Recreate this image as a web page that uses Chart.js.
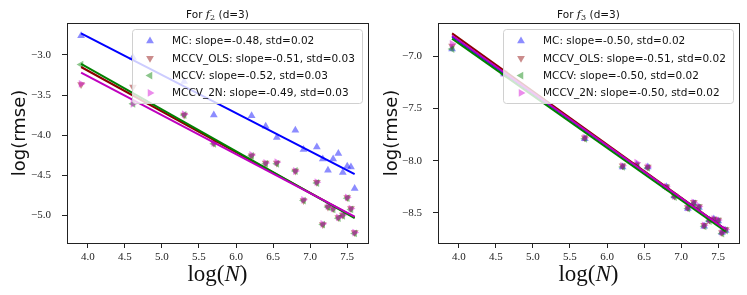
<!DOCTYPE html>
<html>
<head>
<meta charset="utf-8">
<script src="https://cdn.jsdelivr.net/npm/chart.js@4/dist/chart.umd.min.js"></script>
<style>
html, body { margin: 0; padding: 0; background: #fff; }
#wrap { position: relative; width: 747px; height: 295px; }
.box { position: absolute; top: 0; height: 295px; }
</style>
</head>
<body>
<div id="wrap">
  <div class="box" style="left:0;width:373px"><canvas id="c2"></canvas></div>
  <div class="box" style="left:373px;width:374px"><canvas id="c3"></canvas></div>
</div>
<script>
// series names (legend order)
var names = ['MC', 'MCCV_OLS', 'MCCV', 'MCCV_2N'];

// f2 panel
var logN_f2 = [3.91, 4.61, 5.30, 5.70, 6.21, 6.40, 6.55, 6.80, 6.91, 7.09, 7.17, 7.24, 7.31, 7.38, 7.44, 7.50, 7.55, 7.60];
var f2_MC   = [-2.76, -3.03, -3.33, -3.75, -3.76, -3.89, -4.03, -3.94, -4.18, -4.15, -4.30, -4.44, -4.30, -4.23, -4.47, -4.39, -4.40, -4.67];
var f2_OLS  = [-3.37, -3.40, -3.75, -4.10, -4.26, -4.35, -4.35, -4.45, -4.82, -4.59, -5.12, -4.90, -4.92, -5.03, -5.00, -4.78, -4.92, -5.22];
var f2_CV   = [-3.12, -3.61, -3.75, -4.11, -4.26, -4.36, -4.36, -4.45, -4.82, -4.60, -5.12, -4.90, -4.93, -5.04, -5.01, -4.79, -4.93, -5.23];
var f2_2N   = [-3.36, -3.61, -3.74, -4.10, -4.25, -4.35, -4.34, -4.45, -4.81, -4.59, -5.11, -4.89, -4.92, -5.03, -5.00, -4.78, -4.92, -5.22];

// f3 panel
var logN_f3 = [3.91, 4.61, 5.70, 6.21, 6.40, 6.55, 6.80, 6.91, 7.09, 7.17, 7.24, 7.31, 7.38, 7.44, 7.50, 7.55, 7.60];
var f3_MC   = [-6.93, -7.17, -7.79, -8.06, -8.04, -8.06, -8.25, -8.34, -8.46, -8.41, -8.45, -8.63, -8.57, -8.56, -8.58, -8.69, -8.67];
var f3_OLS  = [-6.90, -7.16, -7.78, -8.05, -8.04, -8.06, -8.25, -8.34, -8.45, -8.40, -8.44, -8.62, -8.57, -8.56, -8.57, -8.69, -8.66];
var f3_CV   = [-6.93, -7.17, -7.79, -8.06, -8.05, -8.07, -8.26, -8.35, -8.46, -8.41, -8.45, -8.63, -8.58, -8.57, -8.58, -8.70, -8.67];
var f3_2N   = [-6.88, -7.16, -7.78, -8.05, -8.02, -8.06, -8.25, -8.34, -8.45, -8.40, -8.44, -8.62, -8.57, -8.56, -8.57, -8.69, -8.66];

// fitted lines (endpoints)
var fitX = [3.91, 7.60];
var f2_fit = [[-2.73, -4.49], [-3.15, -5.03], [-3.11, -5.04], [-3.22, -5.02]];
var f3_fit = [[-6.81, -8.66], [-6.78, -8.66], [-6.83, -8.68], [-6.80, -8.66]];

var f2_slope = ['-0.48', '-0.51', '-0.52', '-0.49'];
var f2_std   = ['0.02', '0.03', '0.03', '0.03'];
var f3_slope = ['-0.50', '-0.51', '-0.50', '-0.50'];
var f3_std   = ['0.02', '0.02', '0.02', '0.02'];

var xTicks = [4.0, 4.5, 5.0, 5.5, 6.0, 6.5, 7.0, 7.5];
var f2_yTicks = [-5.0, -4.5, -4.0, -3.5, -3.0];
var f3_yTicks = [-8.5, -8.0, -7.5, -7.0];

// styles
var markerColors = ['rgba(0,0,255,0.45)', 'rgba(139,0,0,0.45)', 'rgba(0,128,0,0.45)', 'rgba(210,0,210,0.45)'];
var markerRot = [0, 180, 270, 90];
var lineColors = ['#0000ff', '#8b0000', '#008000', '#bf00bf'];

function pts(xs, ys) {
  return xs.map(function (x, i) { return { x: x, y: ys[i] }; });
}

function fmt(v) {
  return (v < 0 ? '\u2212' : '') + Math.abs(v).toFixed(1);
}

function tri(ctx, x, y, r, rotDeg) {
  var a = rotDeg * Math.PI / 180;
  ctx.beginPath();
  for (var k = 0; k < 3; k++) {
    var t = a + k * 2 * Math.PI / 3;
    var px = x + Math.sin(t) * r, py = y - Math.cos(t) * r;
    if (k === 0) ctx.moveTo(px, py); else ctx.lineTo(px, py);
  }
  ctx.closePath();
  ctx.fill();
}

function drawParts(ctx, parts, cx, baseY) {
  var w = 0;
  parts.forEach(function (p) { ctx.font = p.font; w += ctx.measureText(p.t).width; });
  var x = cx - w / 2;
  parts.forEach(function (p) {
    ctx.font = p.font;
    ctx.fillText(p.t, x, baseY + (p.dy || 0));
    x += ctx.measureText(p.t).width;
  });
}

// frame, title, axis labels and legend
var decor = {
  id: 'decor',
  afterDraw: function (chart, args, o) {
    var ctx = chart.ctx, a = chart.chartArea;
    var cx = (a.left + a.right) / 2;
    ctx.save();
    ctx.strokeStyle = '#222';
    ctx.lineWidth = 1;
    ctx.strokeRect(Math.round(a.left) + 0.5, Math.round(a.top) + 0.5, Math.round(a.right - a.left), Math.round(a.bottom - a.top));

    ctx.fillStyle = '#111';
    ctx.textBaseline = 'alphabetic';
    ctx.textAlign = 'left';
    drawParts(ctx, [
      { t: 'For ', font: '10.5px "DejaVu Sans"' },
      { t: 'f', font: 'italic 11.5px "DejaVu Serif"' },
      { t: o.sub, font: '8px "DejaVu Serif"', dy: 2 },
      { t: ' (d=3)', font: '10.5px "DejaVu Sans"' }
    ], cx, 18);

    drawParts(ctx, [
      { t: 'log(', font: '23px "Liberation Serif"' },
      { t: 'N', font: 'italic 23px "Liberation Serif"' },
      { t: ')', font: '23px "Liberation Serif"' }
    ], cx, 281);

    ctx.save();
    ctx.translate(o.ylabelX, (a.top + a.bottom) / 2);
    ctx.rotate(-Math.PI / 2);
    ctx.textAlign = 'center';
    ctx.textBaseline = 'middle';
    ctx.font = '18px "DejaVu Sans"';
    ctx.fillText('log(rmse)', 0, 0);
    ctx.restore();

    // legend
    var lw = 230, lh = 74, lx = a.right - 6 - lw, ly = 29;
    ctx.beginPath();
    ctx.roundRect(lx + 0.5, ly + 0.5, lw, lh, 3);
    ctx.fillStyle = 'rgba(255,255,255,0.8)';
    ctx.fill();
    ctx.strokeStyle = '#d0d0d0';
    ctx.stroke();
    ctx.font = '10.5px "DejaVu Sans"';
    ctx.textBaseline = 'middle';
    for (var i = 0; i < names.length; i++) {
      var yy = ly + 12 + i * 17.3;
      ctx.fillStyle = markerColors[i];
      tri(ctx, lx + 18, yy, 4.5, markerRot[i]);
      ctx.fillStyle = '#111';
      ctx.fillText(names[i] + ': slope=' + o.slope[i] + ', std=' + o.std[i], lx + 40, yy + 0.5);
    }
    ctx.restore();
  }
};

function makeChart(id, xs, series, fits, yTicks, ymin, ymax, yWidth, padRight, extra) {
  var datasets = [];
  series.forEach(function (ys, i) {
    datasets.push({
      type: 'scatter',
      data: pts(xs, ys),
      backgroundColor: markerColors[i],
      borderWidth: 0,
      pointStyle: 'triangle',
      pointRotation: markerRot[i],
      pointRadius: 4.5,
      order: 10 - i
    });
  });
  fits.forEach(function (f, i) {
    datasets.push({
      type: 'line',
      data: pts(fitX, f),
      borderColor: lineColors[i],
      borderWidth: 2,
      pointRadius: 0,
      fill: false,
      order: 4 - i
    });
  });
  return new Chart(document.getElementById(id).getContext('2d'), {
    type: 'scatter',
    data: { datasets: datasets },
    options: {
      responsive: true,
      maintainAspectRatio: false,
      animation: false,
      layout: { padding: { top: 23, right: padRight, left: 0, bottom: 0 } },
      plugins: { legend: { display: false }, tooltip: { enabled: false }, title: { display: false }, decor: extra },
      scales: {
        x: {
          type: 'linear', min: 3.72, max: 7.78,
          afterBuildTicks: function (s) { s.ticks = xTicks.map(function (v) { return { value: v }; }); },
          afterFit: function (s) { s.height = 52; },
          ticks: { font: { family: 'Liberation Serif', size: 11 }, color: '#222', padding: 3, maxRotation: 0, autoSkip: false, callback: fmt },
          grid: { drawOnChartArea: false, tickLength: 5, color: '#222' },
          border: { display: false }
        },
        y: {
          type: 'linear', min: ymin, max: ymax,
          afterBuildTicks: function (s) { s.ticks = yTicks.map(function (v) { return { value: v }; }); },
          afterFit: function (s) { s.width = yWidth; },
          ticks: { font: { family: 'Liberation Serif', size: 11 }, color: '#222', padding: 11, autoSkip: false, callback: fmt },
          grid: { drawOnChartArea: false, tickLength: 5, color: '#222' },
          border: { display: false }
        }
      }
    },
    plugins: [decor]
  });
}

makeChart('c2', logN_f2, [f2_MC, f2_OLS, f2_CV, f2_2N], f2_fit, f2_yTicks, -5.35, -2.6, 67, 5,
  { sub: '2', slope: f2_slope, std: f2_std, ylabelX: 20 });
makeChart('c3', logN_f3, [f3_MC, f3_OLS, f3_CV, f3_2N], f3_fit, f3_yTicks, -8.79, -6.68, 65, 8,
  { sub: '3', slope: f3_slope, std: f3_std, ylabelX: 19 });
</script>
</body>
</html>
